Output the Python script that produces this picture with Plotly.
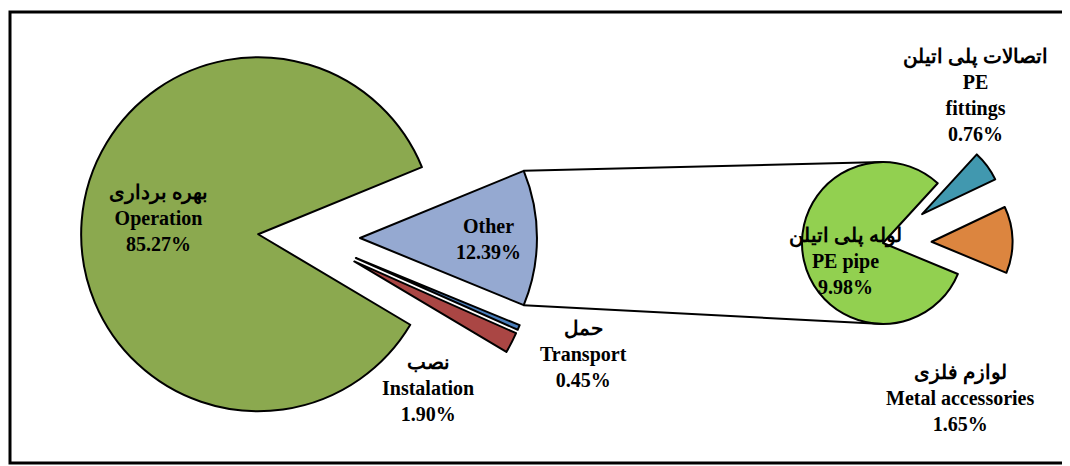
import math
import plotly.graph_objects as go

# main pie
main_labels = ["Other", "Transport", "Instalation", "Operation"]
main_fa = ["", "حمل", "نصب", "بهره برداری"]
main_values = [12.39, 0.45, 1.90, 85.27]
main_colors = ["#95A9D1", "#4A7EBB", "#AA4644", "#8BA94F"]

# breakdown of "Other"
sub_labels = ["PE<br>fittings", "Metal accessories", "PE pipe"]
sub_fa = ["اتصالات پلی اتیلن", "لوازم فلزی", "لوله پلی اتیلن"]
sub_values = [0.76, 1.65, 9.98]
sub_colors = ["#4198AF", "#DC853F", "#92D050"]

W, H = 1070, 466
OFF = 8  # page body margin

# layout (pixels in the final picture)
main_cx, main_cy, main_r, main_pull = 309, 238, 177, 0.288
main_rot = 67.7
sub_cx, sub_cy, sub_r, sub_pull = 883, 243, 81, 0.6
sub_rot = 42.5


def px(x, y):
    return (x - OFF) / W, 1 - (y - OFF) / H


def domain(cx, cy, r, pull):
    half = r * (1 + pull)
    x0, y0 = px(cx - half, cy + half)
    x1, y1 = px(cx + half, cy - half)
    return dict(x=[x0, x1], y=[y0, y1])


fig = go.Figure()

fig.add_trace(go.Pie(
    values=main_values,
    labels=main_labels,
    sort=False,
    direction="clockwise",
    rotation=main_rot,
    pull=[main_pull] * len(main_values),
    marker=dict(colors=main_colors, line=dict(color="black", width=2)),
    textinfo="none",
    hoverinfo="label+percent",
    domain=domain(main_cx, main_cy, main_r, main_pull),
))

fig.add_trace(go.Pie(
    values=sub_values,
    labels=sub_labels,
    sort=False,
    direction="clockwise",
    rotation=sub_rot,
    pull=[sub_pull, sub_pull, 0],
    marker=dict(colors=sub_colors, line=dict(color="black", width=2)),
    textinfo="none",
    hoverinfo="label+percent",
    domain=domain(sub_cx, sub_cy, sub_r, sub_pull),
))

# connector lines from the "Other" slice to the second pie
total = sum(main_values)
a0 = math.radians(main_rot)
a1 = math.radians(main_rot + 360 * main_values[0] / total)
mid = (a0 + a1) / 2
apx = main_cx + main_pull * main_r * math.sin(mid)
apy = main_cy - main_pull * main_r * math.cos(mid)
corners = [(apx + main_r * math.sin(a), apy - main_r * math.cos(a)) for a in (a0, a1)]
ends = [(sub_cx, sub_cy - sub_r), (sub_cx, sub_cy + sub_r)]

shapes = []
for (x0, y0), (x1, y1) in zip(corners, ends):
    p0, p1 = px(x0, y0), px(x1, y1)
    shapes.append(dict(type="line", xref="paper", yref="paper",
                       x0=p0[0], y0=p0[1], x1=p1[0], y1=p1[1],
                       line=dict(color="black", width=2)))

# frame
f0 = px(10, 463)
f1 = px(1090, 12)
shapes.append(dict(type="rect", xref="paper", yref="paper",
                   x0=f0[0], y0=f0[1], x1=f1[0], y1=f1[1],
                   line=dict(color="black", width=3)))

# labels
font = dict(family="Liberation Serif, Times New Roman, serif", size=20, color="black")
label_pos = {
    "Operation": (158, 218),
    "Other": (488, 239),
    "Instalation": (428, 388),
    "Transport": (583, 354),
    "PE<br>fittings": (975, 95),
    "Metal accessories": (960, 398),
    "PE pipe": (845, 261),
}

annotations = []
for lab, fa, val in zip(main_labels + sub_labels, main_fa + sub_fa, main_values + sub_values):
    lines = []
    if fa:
        lines.append(fa)
    lines.append(lab)
    lines.append(f"{val:.2f}%")
    text = "<b>" + "<br>".join(lines) + "</b>"
    x, y = px(*label_pos[lab])
    annotations.append(dict(text=text, x=x, y=y, xref="paper", yref="paper",
                            showarrow=False, font=font, align="center",
                            xanchor="center", yanchor="middle"))

fig.update_layout(
    width=W, height=H,
    margin=dict(l=0, r=0, t=0, b=0),
    paper_bgcolor="white",
    plot_bgcolor="white",
    showlegend=False,
    shapes=shapes,
    annotations=annotations,
)

fig.write_html("out.html")
